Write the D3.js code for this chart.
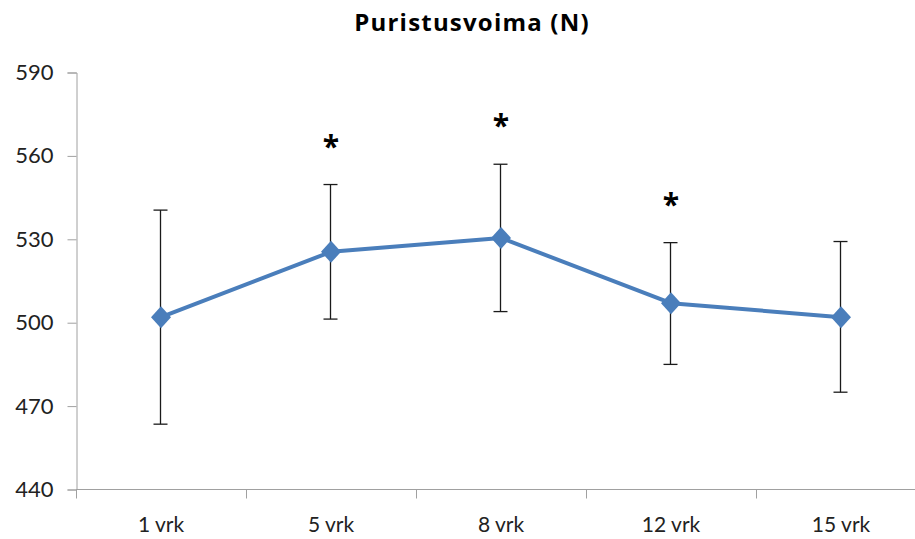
<!DOCTYPE html>
<html>
<head>
<meta charset="utf-8">
<script src="https://cdn.jsdelivr.net/npm/d3@7"></script>
<style>
  html, body { margin: 0; padding: 0; background: #fff; }
  svg { display: block; }
</style>
</head>
<body>
<div id="chart"></div>
<script>
const title = "Puristusvoima (N)";
const categories = ["1 vrk", "5 vrk", "8 vrk", "12 vrk", "15 vrk"];
const means = [502, 525.5, 530.5, 507, 502];
const errUpper = [540.5, 549.7, 557, 528.8, 529.2];
const errLower = [463.5, 501.3, 504, 485, 475];
const significant = [false, true, true, true, false];
const yTicks = [440, 470, 500, 530, 560, 590];

const W = 915, H = 539;
const svg = d3.select("#chart").append("svg").attr("width", W).attr("height", H);

const x = d3.scaleBand().domain(categories).range([76, 926]);
const y = d3.scaleLinear().domain([440, 590]).range([489.5, 72.5]);
const cx = d => x(d) + x.bandwidth() / 2;

const font = "Lato, 'Open Sans', 'Liberation Sans', sans-serif";

// Title
svg.append("text")
  .attr("x", 472).attr("y", 31)
  .attr("text-anchor", "middle")
  .style("font-family", "'Open Sans', Lato, sans-serif")
  .style("font-weight", "bold")
  .style("font-size", "24px")
  .style("letter-spacing", "1.2px")
  .attr("fill", "#000")
  .text(title);

// Y axis
const yAxis = svg.append("g")
  .attr("transform", "translate(76.5,0)")
  .call(d3.axisLeft(y).tickValues(yTicks).tickSize(9).tickPadding(14));
yAxis.select(".domain").attr("stroke", "#a0a0a0");
yAxis.selectAll(".tick line").attr("stroke", "#a0a0a0");
yAxis.selectAll(".tick text")
  .style("font-family", font).style("font-size", "22px").attr("fill", "#222");

// X axis
const xAxis = svg.append("g")
  .attr("transform", "translate(0," + y(440) + ")")
  .call(d3.axisBottom(x).tickSize(0).tickPadding(28));
xAxis.select(".domain").attr("stroke", "#a0a0a0").attr("d", "M76,0H926");
xAxis.selectAll(".tick text")
  .style("font-family", font).style("font-size", "21px").attr("fill", "#222");
// category boundary ticks
const bounds = categories.map(c => x(c));
xAxis.selectAll("line.bnd").data(bounds).enter().append("line")
  .attr("class", "bnd")
  .attr("x1", d => d + 0.5).attr("x2", d => d + 0.5)
  .attr("y1", 0).attr("y2", 9)
  .attr("stroke", "#a0a0a0");

// Error bars
const eb = svg.append("g").attr("stroke", "#1a1a1a").attr("stroke-width", 1.3);
categories.forEach((c, i) => {
  const px = Math.round(cx(c)) - 0.5;
  eb.append("line").attr("x1", px).attr("x2", px).attr("y1", y(errUpper[i])).attr("y2", y(errLower[i]));
  eb.append("line").attr("x1", px - 7).attr("x2", px + 7).attr("y1", y(errUpper[i])).attr("y2", y(errUpper[i]));
  eb.append("line").attr("x1", px - 7).attr("x2", px + 7).attr("y1", y(errLower[i])).attr("y2", y(errLower[i]));
});

// Line
const line = d3.line().x((d, i) => cx(categories[i])).y(d => y(d));
svg.append("path")
  .datum(means)
  .attr("d", line)
  .attr("fill", "none")
  .attr("stroke", "#4a7ebb")
  .attr("stroke-width", 4)
  .attr("stroke-linejoin", "round");

// Markers (diamonds)
svg.selectAll("path.marker").data(means).enter().append("path")
  .attr("class", "marker")
  .attr("d", "M0,-11L10,0L0,11L-10,0Z")
  .attr("transform", (d, i) => "translate(" + cx(categories[i]) + "," + y(d) + ")")
  .attr("fill", "#4a7ebb");

// Significance stars
svg.selectAll("text.star").data(categories.filter((c, i) => significant[i])).enter().append("text")
  .attr("class", "star")
  .attr("x", d => cx(d))
  .attr("y", d => y(errUpper[categories.indexOf(d)]) - 28)
  .attr("text-anchor", "middle")
  .style("font-family", "'Open Sans', Lato, sans-serif")
  .style("font-weight", "bold")
  .style("font-size", "30px")
  .attr("fill", "#000")
  .text("*");
</script>
</body>
</html>
